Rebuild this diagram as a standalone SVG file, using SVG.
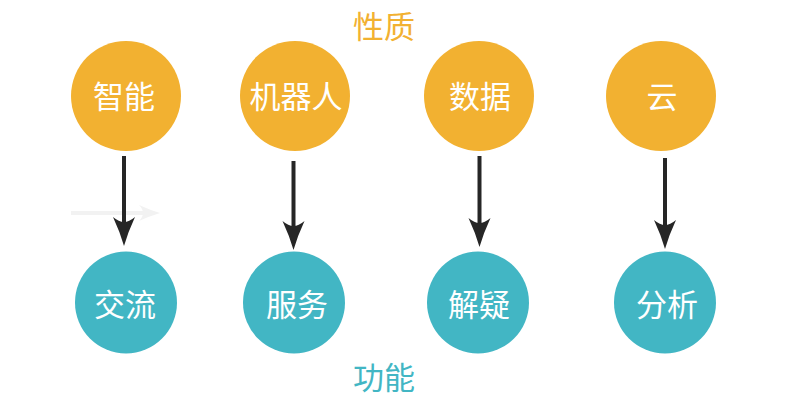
<svg xmlns="http://www.w3.org/2000/svg" width="800" height="400" viewBox="0 0 800 400">
<style>
  text { font-family: "Noto Sans CJK SC", "Noto Sans", sans-serif; font-size: 31px; text-anchor: middle; }
  .top circle { fill: #F2B131; }
  .bot circle { fill: #42B6C4; }
  .lbl { fill: #ffffff; }
  .title1 { fill: #F2B131; }
  .title2 { fill: #42B6C4; }
  .conn { stroke: #262626; stroke-width: 4; fill: none; marker-end: url(#arr); }
  .faint { stroke: #f2f2f2; stroke-width: 4; fill: none; marker-end: url(#arrf); }
</style>
<defs>
  <marker id="arr" markerUnits="userSpaceOnUse" viewBox="-10 -12 34 24" refX="0" refY="0" markerWidth="34" markerHeight="24" orient="auto" overflow="visible">
    <path d="M22,0 Q8,-4 -7,-11 Q-2,-5 -2,0 Q-2,5 -7,11 Q8,4 22,0 Z" fill="#262626"/>
  </marker>
  <marker id="arrf" markerUnits="userSpaceOnUse" viewBox="-10 -12 34 24" refX="0" refY="0" markerWidth="34" markerHeight="24" orient="auto" overflow="visible">
    <path d="M16,0 Q6,-3 -5,-8 Q-1,-4 -1,0 Q-1,4 -5,8 Q6,3 16,0 Z" fill="#f2f2f2"/>
  </marker>
</defs>
<rect width="800" height="400" fill="#ffffff"/>
<text class="title1" x="384" y="38">性质</text>
<text class="title2" x="384" y="389">功能</text>
<g id="connectors">
  <line class="faint" x1="71" y1="213" x2="144" y2="213"/>
  <line class="conn" x1="124" y1="156" x2="124" y2="224"/>
  <line class="conn" x1="293.5" y1="161" x2="293.5" y2="228"/>
  <line class="conn" x1="479.5" y1="156" x2="479.5" y2="225"/>
  <line class="conn" x1="665" y1="158" x2="665" y2="227"/>
</g>
<g id="n-zhineng" class="top"><circle cx="126" cy="96" r="55"/><text class="lbl" x="124" y="108">智能</text></g>
<g id="n-jiqiren" class="top"><circle cx="295" cy="96" r="55"/><text class="lbl" x="296" y="108">机器人</text></g>
<g id="n-shuju" class="top"><circle cx="479" cy="96" r="55"/><text class="lbl" x="480" y="108">数据</text></g>
<g id="n-yun" class="top"><circle cx="661" cy="96" r="55"/><text class="lbl" x="662" y="108">云</text></g>
<g id="n-jiaoliu" class="bot"><circle cx="126" cy="302.5" r="51"/><text class="lbl" x="125" y="316">交流</text></g>
<g id="n-fuwu" class="bot"><circle cx="294" cy="302.5" r="51"/><text class="lbl" x="297" y="316">服务</text></g>
<g id="n-jieyi" class="bot"><circle cx="478" cy="302.5" r="51"/><text class="lbl" x="479" y="316">解疑</text></g>
<g id="n-fenxi" class="bot"><circle cx="665" cy="302.5" r="51"/><text class="lbl" x="667" y="316">分析</text></g>
</svg>
